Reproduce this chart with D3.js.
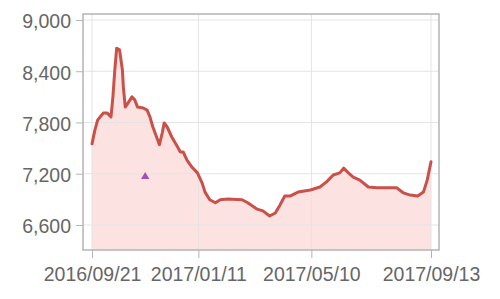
<!DOCTYPE html>
<html>
<head>
<meta charset="utf-8">
<script src="https://cdn.jsdelivr.net/npm/d3@7"></script>
<style>
  html, body { margin: 0; padding: 0; background: #fff; }
  svg { display: block; font-family: 'Liberation Sans', Arial, sans-serif; }
  .axis text { fill: #666; font-size: 19.5px; }
</style>
</head>
<body>
<svg id="chart" width="500" height="299"></svg>
<script>
const dates = [
  '2016-09-21', '2016-09-24', '2016-09-27', '2016-10-03', '2016-10-07', '2016-10-11',
  '2016-10-13', '2016-10-15', '2016-10-17', '2016-10-20', '2016-10-23', '2016-10-24',
  '2016-10-26', '2016-10-29', '2016-11-02', '2016-11-05', '2016-11-08', '2016-11-14',
  '2016-11-18', '2016-11-21', '2016-11-24', '2016-11-28', '2016-12-01', '2016-12-04',
  '2016-12-06', '2016-12-09', '2016-12-14', '2016-12-20', '2016-12-23', '2016-12-26',
  '2016-12-30', '2017-01-04', '2017-01-10', '2017-01-15', '2017-01-18', '2017-01-23',
  '2017-01-29', '2017-02-03', '2017-02-11', '2017-02-26', '2017-03-04', '2017-03-14',
  '2017-03-20', '2017-03-27', '2017-04-02', '2017-04-07', '2017-04-12', '2017-04-18',
  '2017-04-26', '2017-05-09', '2017-05-19', '2017-05-26', '2017-06-02', '2017-06-09',
  '2017-06-13', '2017-06-18', '2017-06-23', '2017-06-30', '2017-07-09', '2017-07-18',
  '2017-08-08', '2017-08-15', '2017-08-22', '2017-08-30', '2017-09-05', '2017-09-09',
  '2017-09-13'
];
const prices = [
  7550, 7710, 7830, 7910, 7910, 7865,
  8100, 8415, 8670, 8650, 8415, 8215,
  7980, 8030, 8100, 8065, 7980, 7970,
  7945, 7865, 7750, 7630, 7540, 7680,
  7795, 7750, 7630, 7515, 7455, 7455,
  7360, 7280, 7210, 7090, 6985, 6895,
  6860, 6895, 6905, 6895, 6860, 6785,
  6765, 6705, 6740, 6835, 6940, 6940,
  6985, 7010, 7045, 7105, 7185, 7210,
  7265, 7210, 7160, 7125, 7045, 7035,
  7035, 6975, 6950, 6940, 6985, 7125,
  7340
];
const markerDate = '2016-11-16';
const markerPrice = 7165;
const xTickLabels = ['2016/09/21', '2017/01/11', '2017/05/10', '2017/09/13'];
const yTickValues = [6600, 7200, 7800, 8400, 9000];

function drawChart(id) {
  const margin = { top: 14, right: 61, bottom: 49, left: 83 };
  const totalWidth = 500;
  const totalHeight = 299;
  const width = totalWidth - margin.left - margin.right;
  const height = totalHeight - margin.top - margin.bottom;

  const parse = d3.timeParse('%Y-%m-%d');
  const parseLabel = d3.timeParse('%Y/%m/%d');
  const data = dates.map((d, i) => ({ date: parse(d), v: prices[i] }));
  const xTicks = xTickLabels.map((d) => parseLabel(d));

  const svg = d3.select(id);

  const xScale = d3.scaleTime(
    [new Date(2016, 8, 11, 12), new Date(2017, 8, 21, 10)],
    [0, width]
  );
  const yScale = d3.scaleLinear([6307, 9070], [height, 0]);

  const g = svg
    .append('g')
    .attr('transform', `translate(${margin.left}, ${margin.top})`);

  /* area under the line */
  g.append('path')
    .attr('fill', '#fde2e2')
    .attr(
      'd',
      d3
        .area()
        .x((d) => xScale(d.date))
        .y0(height)
        .y1((d) => yScale(d.v))(data)
    );

  /* grid lines */
  g.selectAll('.grid-x')
    .data(xTicks)
    .enter()
    .append('line')
    .attr('stroke', '#e4e4e4')
    .attr('stroke-width', 1)
    .attr('x1', (d) => xScale(d))
    .attr('x2', (d) => xScale(d))
    .attr('y1', 0)
    .attr('y2', height);

  g.selectAll('.grid-y')
    .data(yTickValues)
    .enter()
    .append('line')
    .attr('stroke', '#e4e4e4')
    .attr('stroke-width', 1)
    .attr('x1', 0)
    .attr('x2', width)
    .attr('y1', (d) => yScale(d))
    .attr('y2', (d) => yScale(d));

  /* frame */
  g.append('rect')
    .attr('width', width)
    .attr('height', height)
    .attr('fill', 'none')
    .attr('stroke', '#b4b4b4')
    .attr('stroke-width', 1.5);

  /* left axis */
  const leftAxis = d3
    .axisLeft(yScale)
    .tickValues(yTickValues)
    .tickFormat(d3.format(','))
    .tickSize(7)
    .tickPadding(5);
  g.append('g')
    .attr('class', 'axis')
    .call(leftAxis)
    .call((a) => a.select('.domain').remove())
    .call((a) => a.selectAll('line').attr('stroke', '#b4b4b4'))
    .call((a) => a.selectAll('text').attr('dy', '0.4em'));

  /* bottom axis */
  const bottomAxis = d3
    .axisBottom(xScale)
    .tickValues(xTicks)
    .tickFormat((d, i) => xTickLabels[i])
    .tickSize(8)
    .tickPadding(9);
  g.append('g')
    .attr('class', 'axis')
    .attr('transform', `translate(0, ${height})`)
    .call(bottomAxis)
    .call((a) => a.select('.domain').remove())
    .call((a) => a.selectAll('line').attr('stroke', '#b4b4b4'));

  /* data line */
  g.append('path')
    .attr('fill', 'none')
    .attr('stroke', '#c9514a')
    .attr('stroke-width', 3)
    .attr('stroke-linejoin', 'round')
    .attr('stroke-linecap', 'round')
    .attr(
      'd',
      d3
        .line()
        .x((d) => xScale(d.date))
        .y((d) => yScale(d.v))(data)
    );

  /* marker */
  g.append('path')
    .attr('fill', '#a54fb3')
    .attr('d', d3.symbol(d3.symbolTriangle, 30)())
    .attr(
      'transform',
      `translate(${xScale(parse(markerDate))}, ${yScale(markerPrice)})`
    );
}

drawChart('#chart');
</script>
</body>
</html>
